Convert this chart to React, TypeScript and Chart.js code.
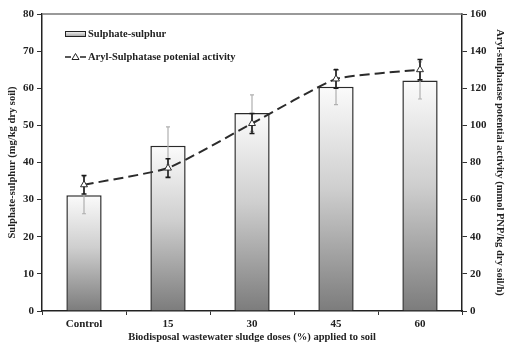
import React, { useEffect, useRef } from "react";
import { Chart, registerables } from "chart.js";

Chart.register(...registerables);

// Sludge dose categories
const categories = ["Control", "15", "30", "45", "60"];
// Sulphate-sulphur (mg/kg dry soil) and its error
const sulphate = [31.2, 44.5, 53.3, 60.4, 62.1];
const sulphateErr = [5.0, 5.1, 4.9, 4.8, 5.0];
// Aryl-sulphatase potential activity (mmol PNP/kg dry soil/h) and its error
const arylActivity = [68, 77, 101, 125, 130];
const arylErr = [5, 5, 5.4, 5, 5.5];

const leftTicksMax = 80;
const rightTicksMax = 160;

const FONT = "'Liberation Serif', 'Times New Roman', serif";
const INK = "#222";

function barGradient(ctx: CanvasRenderingContext2D, top: number, bottom: number) {
  const g = ctx.createLinearGradient(0, top, 0, bottom);
  g.addColorStop(0, "#fbfbfb");
  g.addColorStop(0.45, "#cfcfcf");
  g.addColorStop(1, "#7c7c7c");
  return g;
}

const errorBarsPlugin = {
  id: "errorBars",
  afterDatasetDraw(chart: any, args: any) {
    const ctx = chart.ctx;
    const meta = args.meta;
    if (args.index === 0) {
      // grey whiskers for the bars
      const ys = chart.scales.y;
      ctx.save();
      ctx.strokeStyle = "#b0b0b0";
      ctx.lineWidth = 1.2;
      meta.data.forEach((el: any, i: number) => {
        const x = el.x;
        const y1 = ys.getPixelForValue(sulphate[i] + sulphateErr[i]);
        const y2 = ys.getPixelForValue(sulphate[i] - sulphateErr[i]);
        ctx.beginPath();
        ctx.moveTo(x, y1);
        ctx.lineTo(x, y2);
        ctx.moveTo(x - 2, y1);
        ctx.lineTo(x + 2, y1);
        ctx.moveTo(x - 2, y2);
        ctx.lineTo(x + 2, y2);
        ctx.stroke();
      });
      ctx.restore();
    }
  },
  beforeDatasetDraw(chart: any, args: any) {
    if (args.index !== 1) return;
    const ctx = chart.ctx;
    const ys = chart.scales.y1;
    const meta = chart.getDatasetMeta(1);
    ctx.save();
    ctx.strokeStyle = "#1a1a1a";
    ctx.lineWidth = 1.6;
    meta.data.forEach((el: any, i: number) => {
      const x = el.x;
      const y1 = ys.getPixelForValue(arylActivity[i] + arylErr[i]);
      const y2 = ys.getPixelForValue(arylActivity[i] - arylErr[i]);
      ctx.beginPath();
      ctx.moveTo(x, y1);
      ctx.lineTo(x, y2);
      ctx.moveTo(x - 2.5, y1);
      ctx.lineTo(x + 2.5, y1);
      ctx.moveTo(x - 2.5, y2);
      ctx.lineTo(x + 2.5, y2);
      ctx.stroke();
    });
    ctx.restore();
  },
};

const frameAndLegendPlugin = {
  id: "frameAndLegend",
  afterDraw(chart: any) {
    const ctx = chart.ctx;
    const area = chart.chartArea;
    ctx.save();
    // top frame line
    ctx.strokeStyle = "#777";
    ctx.lineWidth = 1.5;
    ctx.beginPath();
    ctx.moveTo(area.left, area.top);
    ctx.lineTo(area.right, area.top);
    ctx.stroke();

    // legend: bar swatch
    const lx = area.left + 23;
    const ly1 = area.top + 20;
    const g = ctx.createLinearGradient(0, ly1 - 3, 0, ly1 + 3);
    g.addColorStop(0, "#ffffff");
    g.addColorStop(1, "#9a9a9a");
    ctx.fillStyle = g;
    ctx.fillRect(lx, ly1 - 3, 21, 6);
    ctx.strokeStyle = "#222";
    ctx.lineWidth = 1;
    ctx.strokeRect(lx + 0.5, ly1 - 3 + 0.5, 20, 5);

    ctx.fillStyle = INK;
    ctx.font = `bold 10.5px ${FONT}`;
    ctx.textBaseline = "middle";
    ctx.textAlign = "left";
    ctx.fillText("Sulphate-sulphur", lx + 23, ly1);

    // legend: line with triangle marker
    const ly2 = area.top + 43;
    ctx.strokeStyle = "#222";
    ctx.lineWidth = 1.5;
    ctx.beginPath();
    ctx.moveTo(lx, ly2);
    ctx.lineTo(lx + 6, ly2);
    ctx.moveTo(lx + 15, ly2);
    ctx.lineTo(lx + 21, ly2);
    ctx.stroke();
    const tx = lx + 10.5;
    ctx.fillStyle = "#fff";
    ctx.lineWidth = 1;
    ctx.beginPath();
    ctx.moveTo(tx, ly2 - 3.5);
    ctx.lineTo(tx + 3.5, ly2 + 2.5);
    ctx.lineTo(tx - 3.5, ly2 + 2.5);
    ctx.closePath();
    ctx.fill();
    ctx.stroke();

    ctx.fillStyle = INK;
    ctx.fillText("Aryl-Sulphatase potenial activity", lx + 23, ly2);
    ctx.restore();
  },
};

export default function App() {
  const canvasRef = useRef<HTMLCanvasElement | null>(null);

  useEffect(() => {
    const canvas = canvasRef.current;
    if (!canvas) return;

    const chart = new Chart(canvas, {
      type: "bar",
      data: {
        labels: categories,
        datasets: [
          {
            type: "bar",
            label: "Sulphate-sulphur",
            data: sulphate,
            yAxisID: "y",
            order: 1,
            borderColor: "#2a2a2a",
            borderWidth: 1.5,
            borderSkipped: "bottom",
            categoryPercentage: 1,
            barPercentage: 0.42,
            backgroundColor: (c: any) => {
              const chartRef = c.chart;
              if (c.type !== "data" || !chartRef.chartArea) return "#cccccc";
              const ys = chartRef.scales.y;
              const top = ys.getPixelForValue(c.raw);
              const bottom = ys.getPixelForValue(0);
              return barGradient(chartRef.ctx, top, bottom);
            },
          },
          {
            type: "line",
            label: "Aryl-Sulphatase potenial activity",
            data: arylActivity,
            yAxisID: "y1",
            order: 0,
            borderColor: "#2b2b2b",
            borderWidth: 2,
            borderDash: [10, 5],
            tension: 0.15,
            pointStyle: "triangle",
            pointRadius: 4,
            pointBackgroundColor: "#ffffff",
            pointBorderColor: "#2b2b2b",
            pointBorderWidth: 1,
            fill: false,
          },
        ],
      },
      options: {
        responsive: false,
        animation: false,
        devicePixelRatio: 1,
        layout: { padding: { top: 14, left: 0, right: 0, bottom: 0 } },
        plugins: {
          legend: { display: false },
          tooltip: { enabled: false },
        },
        scales: {
          x: {
            afterFit: (s: any) => {
              s.height = 36;
            },
            grid: {
              offset: true,
              drawOnChartArea: false,
              drawTicks: true,
              tickLength: 4,
              color: "#333",
            },
            border: { color: "#222", width: 1.5 },
            ticks: {
              color: INK,
              padding: 3,
              font: { family: FONT, size: 11, weight: "bold" },
            },
            title: {
              display: true,
              text: "Biodisposal wastewater sludge doses (%) applied to soil",
              color: INK,
              padding: { top: 0, bottom: 3 },
              font: { family: FONT, size: 10.5, weight: "bold" },
            },
          },
          y: {
            position: "left",
            min: 0,
            max: leftTicksMax,
            afterFit: (s: any) => {
              s.width = 42;
            },
            grid: {
              drawOnChartArea: false,
              drawTicks: true,
              tickLength: 5,
              color: "#333",
            },
            border: { color: "#222", width: 1.5 },
            ticks: {
              stepSize: 10,
              color: INK,
              padding: 3,
              font: { family: FONT, size: 11, weight: "bold" },
            },
            title: {
              display: true,
              text: "Sulphate-sulphur (mg/kg dry soil)",
              color: INK,
              padding: { top: 6, bottom: 0 },
              font: { family: FONT, size: 10.5, weight: "bold" },
            },
          },
          y1: {
            position: "right",
            min: 0,
            max: rightTicksMax,
            afterFit: (s: any) => {
              s.width = 45;
            },
            grid: {
              drawOnChartArea: false,
              drawTicks: true,
              tickLength: 5,
              color: "#333",
            },
            border: { color: "#222", width: 1.5 },
            ticks: {
              stepSize: 20,
              color: INK,
              padding: 3,
              font: { family: FONT, size: 11, weight: "bold" },
            },
            title: {
              display: true,
              text: "Aryl-sulphatase potential activity (mmol PNP/kg dry soil/h)",
              color: INK,
              padding: { top: 1, bottom: 0 },
              font: { family: FONT, size: 10.5, weight: "bold" },
            },
          },
        },
      },
      plugins: [errorBarsPlugin, frameAndLegendPlugin],
    } as any);

    return () => chart.destroy();
  }, []);

  return (
    <div style={{ position: "fixed", left: 0, top: 0, width: 507, height: 347, background: "#fff" }}>
      <canvas ref={canvasRef} width={507} height={347} style={{ display: "block" }} />
    </div>
  );
}
